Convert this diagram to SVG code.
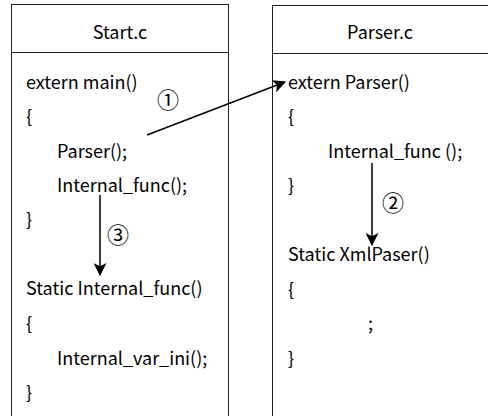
<svg xmlns="http://www.w3.org/2000/svg" width="488" height="416" viewBox="0 0 488 416">
<defs>
<style>
.box{fill:#fff;stroke:#222;stroke-width:1}
.t{font-family:"Noto Sans CJK KR","Liberation Sans",sans-serif;font-size:18px;fill:#000}
.c{font-family:"Noto Sans CJK KR","DejaVu Sans",sans-serif;font-size:22px;fill:#000}
.ln{stroke:#000;stroke-width:1.5;fill:none;marker-end:url(#ah)}
</style>
<marker id="ah" viewBox="0 0 12 12" refX="11" refY="6" markerWidth="13" markerHeight="13" markerUnits="userSpaceOnUse" orient="auto">
<path d="M0,0 L12,6 L0,12 L3,6 Z" fill="#000"/>
</marker>
</defs>
<g id="start">
<rect class="box" x="11.5" y="4.5" width="217" height="420"/>
<line class="box" x1="11.5" y1="52.5" x2="228.5" y2="52.5"/>
<text class="t" x="120" y="39" text-anchor="middle">Start.c</text>
<text class="t" x="26" y="89">extern main()</text>
<text class="t" x="26" y="123">{</text>
<text class="t" x="57" y="158">Parser();</text>
<text class="t" x="57" y="192">Internal_func();</text>
<text class="t" x="26" y="226">}</text>
<text class="t" x="26" y="295">Static Internal_func()</text>
<text class="t" x="26" y="330">{</text>
<text class="t" x="57" y="365">Internal_var_ini();</text>
<text class="t" x="26" y="399">}</text>
</g>
<g id="parser">
<rect class="box" x="272.5" y="5.5" width="230" height="420"/>
<line class="box" x1="272.5" y1="53.5" x2="502" y2="53.5"/>
<text class="t" x="380" y="39" text-anchor="middle">Parser.c</text>
<text class="t" x="288" y="89">extern Parser()</text>
<text class="t" x="288" y="123">{</text>
<text class="t" x="328" y="158">Internal_func ();</text>
<text class="t" x="288" y="192">}</text>
<text class="t" x="288" y="261">Static XmlPaser()</text>
<text class="t" x="288" y="296">{</text>
<text class="t" x="368" y="330">;</text>
<text class="t" x="288" y="365">}</text>
</g>
<g id="connectors">
<line class="ln" x1="147" y1="135" x2="285" y2="82"/>
<line class="ln" x1="372" y1="163" x2="372" y2="245"/>
<line class="ln" x1="100" y1="195" x2="100" y2="275"/>
<text class="c" x="168" y="108" text-anchor="middle">①</text>
<text class="c" x="393" y="211" text-anchor="middle">②</text>
<text class="c" x="118" y="243" text-anchor="middle">③</text>
</g>
</svg>
